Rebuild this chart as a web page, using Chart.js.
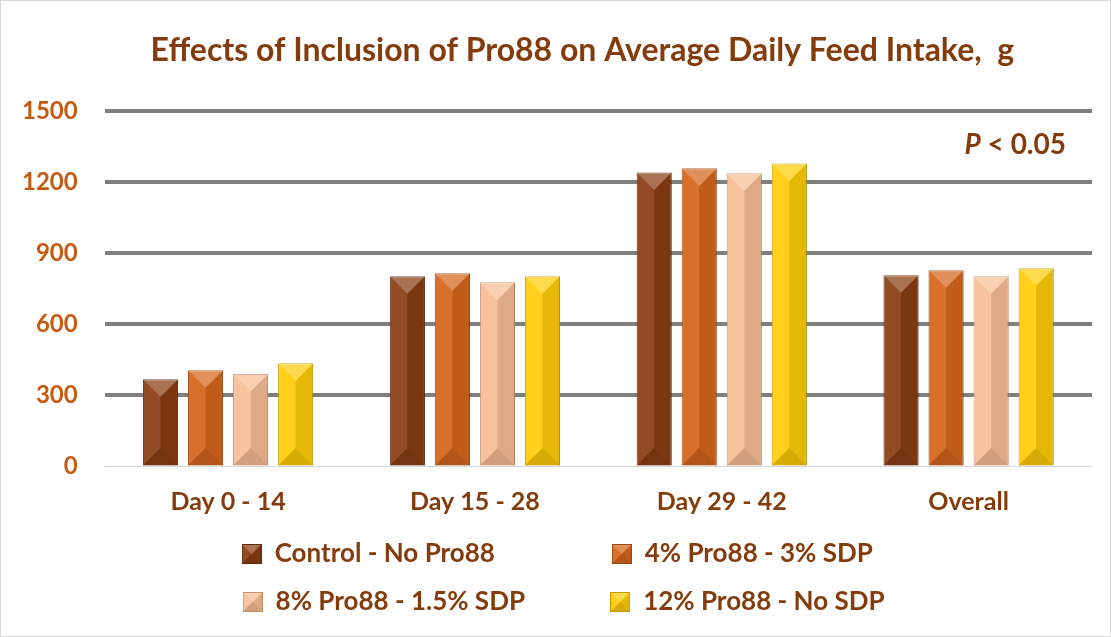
<!DOCTYPE html>
<html>
<head>
    <title>Pro88 Average Daily Feed Intake</title>
    <script src="https://cdn.jsdelivr.net/npm/chart.js"></script>
    <style>
        body {
            margin: 0;
            background-color: #ffffff;
        }
        #wrap {
            width: 1109px;
            height: 635px;
            border: 1px solid #d9d9d9;
        }
    </style>
</head>
<body>
    <div id="wrap">
        <canvas id="myChart"></canvas>
    </div>

    <script>
        // Data (g/day)
        const periodos = ["Day 0 - 14", "Day 15 - 28", "Day 29 - 42", "Overall"];
        const control = [367, 803, 1242, 807];
        const pro88_4 = [405, 815, 1259, 828];
        const pro88_8 = [389, 777, 1238, 803];
        const pro88_12 = [435, 803, 1280, 837];
        const yTicks = [0, 300, 600, 900, 1200, 1500];

        const series = [
            { label: "Control - No Pro88", data: control, color: "#8a3e12", border: "#5e2a0a" },
            { label: "4% Pro88 - 3% SDP", data: pro88_4, color: "#d6661d", border: "#9c4712" },
            { label: "8% Pro88 - 1.5% SDP", data: pro88_8, color: "#f8be96", border: "#c98f68" },
            { label: "12% Pro88 - No SDP", data: pro88_12, color: "#ffcc08", border: "#c99a00" }
        ];

        const brown = "#843c0c";
        const orange = "#c55a11";
        const fuente = "Lato, 'Open Sans', sans-serif";
        const legendFont = "bold 26px " + fuente;

        // bevel facets: top/left lighter, right/bottom darker
        function bevel(ctx, L, R, T, B) {
            const cx = (L + R) / 2;
            const h = Math.min((R - L) / 2, (B - T) / 2);
            const poly = (pts, fill) => {
                ctx.beginPath();
                ctx.moveTo(pts[0][0], pts[0][1]);
                pts.slice(1).forEach(p => ctx.lineTo(p[0], p[1]));
                ctx.closePath();
                ctx.fillStyle = fill;
                ctx.fill();
            };
            poly([[L, T], [R, T], [cx, T + h]], 'rgba(255,255,255,0.28)');
            poly([[L, T], [cx, T + h], [cx, B - h], [L, B]], 'rgba(255,255,255,0.07)');
            poly([[R, T], [cx, T + h], [cx, B - h], [R, B]], 'rgba(0,0,0,0.10)');
            poly([[L, B], [R, B], [cx, B - h]], 'rgba(0,0,0,0.16)');
        }

        // small bevelled squares for the legend
        function legendIcon(s) {
            const c = document.createElement('canvas');
            c.width = 20;
            c.height = 20;
            const g = c.getContext('2d');
            g.fillStyle = s.color;
            g.fillRect(0, 0, 20, 20);
            bevel(g, 0, 20, 0, 20);
            g.strokeStyle = s.border;
            g.strokeRect(0.5, 0.5, 19, 19);
            return c;
        }

        const bevelPlugin = {
            id: 'bevel',
            afterDatasetsDraw(chart) {
                const ctx = chart.ctx;
                chart.data.datasets.forEach((ds, i) => {
                    chart.getDatasetMeta(i).data.forEach(bar => {
                        ctx.save();
                        bevel(ctx, bar.x - bar.width / 2, bar.x + bar.width / 2, bar.y, bar.base);
                        ctx.restore();
                    });
                });
            }
        };

        // "P < 0.05" note
        const notePlugin = {
            id: 'note',
            afterDraw(chart) {
                const ctx = chart.ctx;
                const x = chart.chartArea.right - 26;
                const y = chart.scales.y.getPixelForValue(1360);
                ctx.save();
                ctx.fillStyle = brown;
                ctx.textBaseline = 'middle';
                ctx.textAlign = 'right';
                ctx.font = "bold 28px " + fuente;
                const rest = " < 0.05";
                ctx.fillText(rest, x, y);
                const w = ctx.measureText(rest).width;
                ctx.font = "italic bold 28px " + fuente;
                ctx.fillText("P", x - w, y);
                ctx.restore();
            }
        };

        // pad legend texts with spaces so that the two columns line up
        function legendLabels(chart) {
            const items = Chart.defaults.plugins.legend.labels.generateLabels(chart);
            const c = chart.ctx;
            c.save();
            c.font = legendFont;
            items.forEach((it, i) => {
                const target = i % 2 === 0 ? 311 : 305;
                while (c.measureText(it.text).width < target) it.text += ' ';
            });
            c.restore();
            return items;
        }

        const ctx = document.getElementById('myChart').getContext('2d');
        const myChart = new Chart(ctx, {
            type: 'bar',
            data: {
                labels: periodos,
                datasets: series.map(s => ({
                    label: s.label,
                    data: s.data,
                    backgroundColor: s.color,
                    borderColor: s.border,
                    borderWidth: 1,
                    pointStyle: legendIcon(s),
                    barPercentage: 0.78,
                    categoryPercentage: 0.73
                }))
            },
            options: {
                responsive: true,
                maintainAspectRatio: false,
                animation: false,
                layout: {
                    padding: { left: -6, right: 18, top: 0, bottom: 11 }
                },
                plugins: {
                    title: {
                        display: true,
                        // leading spaces push the title a bit right, as in the original
                        text: "          Effects of Inclusion of Pro88 on Average Daily Feed Intake,  g",
                        color: brown,
                        font: { family: fuente, size: 32, weight: 'bold' },
                        padding: { top: 30, bottom: 42 }
                    },
                    legend: {
                        position: 'bottom',
                        fullSize: false,
                        labels: {
                            color: brown,
                            font: { family: fuente, size: 26, weight: 'bold' },
                            usePointStyle: true,
                            boxWidth: 20,
                            boxHeight: 20,
                            padding: 22,
                            generateLabels: legendLabels
                        }
                    },
                    tooltip: { enabled: false }
                },
                scales: {
                    x: {
                        grid: { display: false, drawTicks: false },
                        border: { display: false },
                        ticks: {
                            color: brown,
                            font: { family: fuente, size: 25, weight: 'bold' },
                            padding: 21
                        },
                        // fixed band height for the category labels
                        afterFit: axis => {
                            axis.height = 53;
                        }
                    },
                    y: {
                        min: 0,
                        max: 1500,
                        afterBuildTicks: axis => {
                            axis.ticks = yTicks.map(v => ({ value: v }));
                        },
                        border: { display: false },
                        grid: {
                            color: c => c.index === 0 ? '#d9d9d9' : '#7f7f7f',
                            lineWidth: c => c.index === 0 ? 1 : 4,
                            drawTicks: false
                        },
                        ticks: {
                            color: orange,
                            font: { family: fuente, size: 24, weight: 'bold' },
                            padding: 27,
                            callback: v => String(v)
                        }
                    }
                }
            },
            plugins: [bevelPlugin, notePlugin]
        });
    </script>
</body>
</html>
